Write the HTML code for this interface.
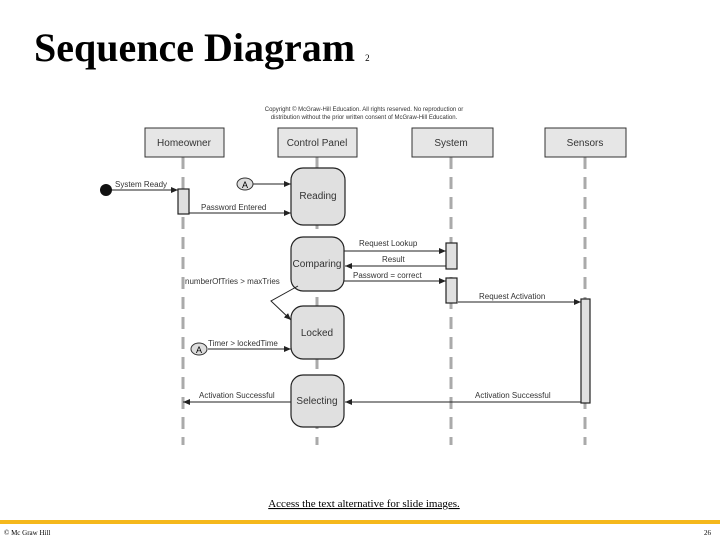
<!DOCTYPE html>
<html><head><meta charset="utf-8"><style>
body{margin:0;width:720px;height:540px;background:#fff;overflow:hidden;position:relative;font-family:"Liberation Sans",sans-serif}
.t{position:absolute;left:34px;top:24px;font-family:"Liberation Serif",serif;font-weight:bold;font-size:40px;color:#000;white-space:nowrap}
</style></head><body>
<div class="t">Sequence Diagram <span style="font-size:9px;font-weight:normal">2</span></div>
<svg width="720" height="540" style="position:absolute;left:0;top:0" font-family="Liberation Sans, sans-serif">
<defs><marker id="a" markerWidth="8" markerHeight="8" refX="7" refY="4" orient="auto" markerUnits="userSpaceOnUse"><path d="M0,1 L7,4 L0,7z" fill="#222"/></marker></defs>
<text x="364" y="111" font-size="6" text-anchor="middle" fill="#333">Copyright © McGraw-Hill Education. All rights reserved. No reproduction or</text>
<text x="364" y="119" font-size="6" text-anchor="middle" fill="#333">distribution without the prior written consent of McGraw-Hill Education.</text>
<g stroke="#aaa" stroke-width="3" stroke-dasharray="12 8">
<line x1="183" y1="157" x2="183" y2="445"/><line x1="317" y1="157" x2="317" y2="445"/>
<line x1="451" y1="157" x2="451" y2="445"/><line x1="585" y1="157" x2="585" y2="445"/></g>
<g fill="#e6e6e6" stroke="#333" stroke-width="1">
<rect x="145" y="128" width="79" height="29"/><rect x="278" y="128" width="79" height="29"/>
<rect x="412" y="128" width="81" height="29"/><rect x="545" y="128" width="81" height="29"/></g>
<g font-size="10" fill="#333" text-anchor="middle">
<text x="184" y="146">Homeowner</text><text x="317" y="146">Control Panel</text>
<text x="451" y="146">System</text><text x="585" y="146">Sensors</text></g>
<g fill="#e0e0e0" stroke="#222" stroke-width="1.2">
<rect x="291" y="168" width="54" height="57" rx="12"/><rect x="291" y="237" width="53" height="54" rx="12"/>
<rect x="291" y="306" width="53" height="53" rx="12"/><rect x="291" y="375" width="53" height="52" rx="12"/>
<rect x="178" y="189" width="11" height="25"/><rect x="446" y="243" width="11" height="26"/>
<rect x="446" y="278" width="11" height="25"/><rect x="581" y="299" width="9" height="104"/></g>
<g font-size="10" fill="#333" text-anchor="middle">
<text x="318" y="199">Reading</text><text x="317" y="267">Comparing</text>
<text x="317" y="336">Locked</text><text x="317" y="404">Selecting</text></g>
<circle cx="106" cy="190" r="6" fill="#111"/>
<ellipse cx="245" cy="184" rx="8" ry="6" fill="#ddd" stroke="#333"/><text x="245" y="188" font-size="9" text-anchor="middle">A</text>
<ellipse cx="199" cy="349" rx="8" ry="6" fill="#ddd" stroke="#333"/><text x="199" y="353" font-size="9" text-anchor="middle">A</text>
<g stroke="#222" stroke-width="1" fill="none" marker-end="url(#a)">
<line x1="112" y1="190" x2="178" y2="190"/>
<line x1="189" y1="213" x2="291" y2="213"/>
<line x1="253" y1="184" x2="291" y2="184"/>
<line x1="344" y1="251" x2="446" y2="251"/>
<line x1="446" y1="266" x2="345" y2="266"/>
<line x1="344" y1="281" x2="446" y2="281"/>
<line x1="458" y1="302" x2="581" y2="302"/>
<polyline points="298,286 271,301 291,320"/>
<line x1="208" y1="349" x2="291" y2="349"/>
<line x1="291" y1="402" x2="183" y2="402"/>
<line x1="581" y1="402" x2="345" y2="402"/></g>
<g font-size="8" fill="#333">
<text x="115" y="187">System Ready</text><text x="201" y="210">Password Entered</text>
<text x="359" y="246">Request Lookup</text><text x="382" y="262">Result</text>
<text x="353" y="278">Password = correct</text><text x="479" y="299">Request Activation</text>
<text x="185" y="284">numberOfTries &gt; maxTries</text><text x="208" y="346">Timer &gt; lockedTime</text>
<text x="199" y="398">Activation Successful</text><text x="475" y="398">Activation Successful</text></g>
<text x="364" y="507" font-family="Liberation Serif, serif" font-size="11" text-anchor="middle" text-decoration="underline">Access the text alternative for slide images.</text>
<rect x="0" y="520" width="720" height="4" fill="#f5b81c"/>
<text x="4" y="535" font-family="Liberation Serif, serif" font-size="7">© Mc Graw Hill</text>
<text x="704" y="535" font-family="Liberation Serif, serif" font-size="7">26</text>
</svg>
</body></html>
